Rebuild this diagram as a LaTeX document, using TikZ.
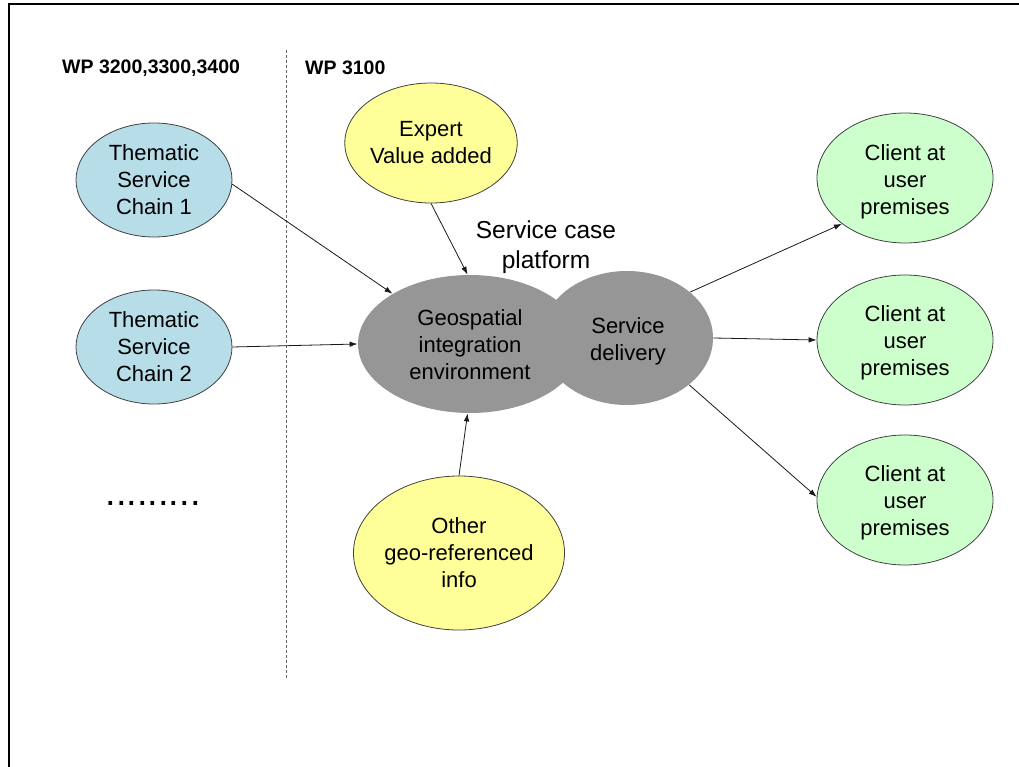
\documentclass[tikz,border=0pt]{standalone}
\usepackage{fontspec}
\setmainfont{Liberation Sans}
\usetikzlibrary{shapes.geometric,arrows.meta}
\definecolor{thema}{RGB}{183,221,232}
\definecolor{expert}{RGB}{255,255,153}
\definecolor{client}{RGB}{204,255,204}
\definecolor{core}{RGB}{150,150,150}
\definecolor{rim}{RGB}{64,64,64}
\tikzset{
  bubble/.style={ellipse, draw=rim, line width=0.8pt, inner sep=0pt, align=center,
    font=\fontsize{22}{27}\selectfont},
  chain/.style={bubble, fill=thema, minimum width=156pt, minimum height=114pt},
  addon/.style={bubble, fill=expert},
  clientbox/.style={bubble, fill=client, minimum width=176pt, minimum height=130pt},
  corebox/.style={bubble, draw=none, fill=core},
  flow/.style={line width=0.8pt, draw=black!90, -{Latex[length=8pt,width=5.5pt]}},
  wplabel/.style={anchor=west, inner sep=0pt, font=\fontsize{19.5}{22}\bfseries\selectfont}
}
\begin{document}
\begin{tikzpicture}[x=1pt,y=-1pt]
  \useasboundingbox (0,0) rectangle (1019,767);
  % page frame (top and left edges)
  \draw[line width=2pt] (1019,4.5) -- (9,4.5) -- (9,767);
  % separator between work packages
  \draw[rim!80, line width=1pt, dash pattern=on 3pt off 2pt] (286,50) -- (286,678);
  \node[wplabel] (wpa) at (62,68) {WP 3200,3300,3400};
  \node[wplabel] (wpb) at (305,68) {WP 3100};

  % thematic chains
  \node[chain] (t1) at (154,180) {Thematic\\Service\\Chain 1};
  \node[chain] (t2) at (154,347) {Thematic\\Service\\Chain 2};
  \node[inner sep=0pt, font=\fontsize{38}{40}\selectfont] (more) at (153,503) {.........};

  % platform
  \node[corebox, minimum width=224pt, minimum height=138pt] (geo) at (470,344) {};
  \node[corebox, minimum width=172pt, minimum height=134pt] (sd) at (627,338) {};
  \node[align=center, inner sep=0pt, font=\fontsize{22}{27}\selectfont] (geotxt) at (470,345)
    {Geospatial\\integration\\environment};
  \node[align=center, inner sep=0pt, font=\fontsize{22}{27}\selectfont] (sdtxt) at (628,341)
    {Service\\delivery};
  \node[align=center, inner sep=0pt, font=\fontsize{24.5}{30}\selectfont] (plat) at (546,247)
    {Service case\\platform};

  % inputs
  \node[addon, minimum width=162pt, minimum height=120pt] (expert) at (431,143) {Expert\\Value added};
  \node[addon, minimum width=202pt, minimum height=154pt] (other) at (459,553) {Other\\geo-referenced\\info};

  % clients (ellipses, with their labels set a little lower)
  \node[clientbox] (c1) at (905,178) {};
  \node[clientbox] (c2) at (905,340) {};
  \node[clientbox] (c3) at (905,500) {};
  \node[align=center, inner sep=0pt, font=\fontsize{22}{27}\selectfont] (c1txt) at (905,182) {Client at\\user\\premises};
  \node[align=center, inner sep=0pt, font=\fontsize{22}{27}\selectfont] (c2txt) at (905,343) {Client at\\user\\premises};
  \node[align=center, inner sep=0pt, font=\fontsize{22}{27}\selectfont] (c3txt) at (905,503) {Client at\\user\\premises};

  % connectors
  \draw[flow] (t1.-3) -- (geo.147);
  \draw[flow] (t2.east) -- (geo.west);
  \draw[flow] (expert.south) -- (geo.92);
  \draw[flow] (other.north) -- (geo.-92);
  \draw[flow] (sd.36) -- (c1.216.7);
  \draw[flow] (sd.east) -- (c2.west);
  \draw[flow] (sd.-37.6) -- (c3.178);
\end{tikzpicture}
\end{document}
